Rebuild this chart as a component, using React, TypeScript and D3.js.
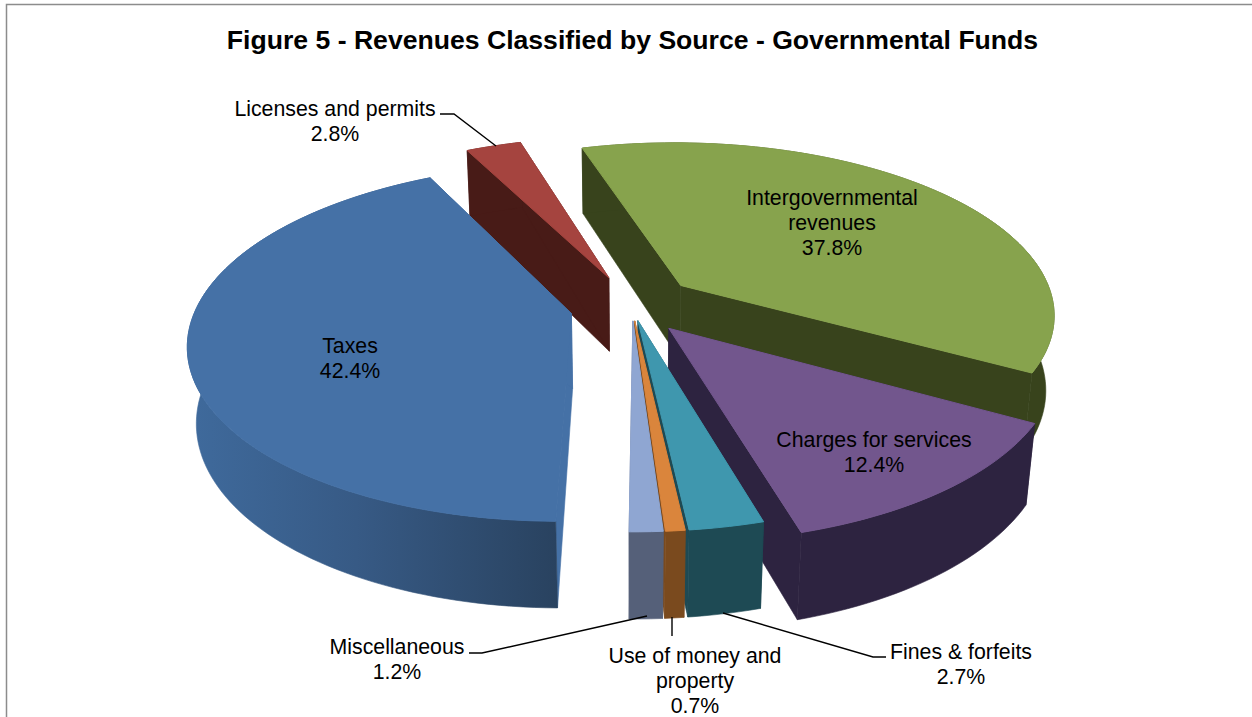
import React from "react";
import * as d3 from "d3";

const categories = ["Taxes", "Licenses and permits", "Intergovernmental revenues", "Charges for services", "Fines & forfeits", "Use of money and property", "Miscellaneous"];
const shares = [42.4, 2.8, 37.8, 12.4, 2.7, 0.7, 1.2];
const percentLabels = ["42.4%", "2.8%", "37.8%", "12.4%", "2.7%", "0.7%", "1.2%"];
const topColors = ["#4571a6", "#a5443f", "#87a34d", "#72568d", "#3f97ae", "#da853c", "#8fa6d2"];
const wallColors = ["#35567f", "#481b17", "#38431c", "#2d2340", "#1e4a54", "#7a4a1e", "#556079"];
const cutColors = ["#4571a6", "#481b17", "#38431c", "#2d2340", "#1e4a54", "#7a4a1e", "#556079"];
const explosions = [0.165, 0.17, 0.17, 0.155, 0.08, 0.08, 0.08];
const depthBoost = [1, 1.1, 1.2, 1, 1, 1, 1];
const paintOrder = [1, 2, 3, 0, 4, 5, 6];

const labelLines = [["Taxes"], ["Licenses and permits"], ["Intergovernmental", "revenues"], ["Charges for services"], ["Fines & forfeits"], ["Use of money and", "property"], ["Miscellaneous"]];
const labelCentres = [[350, 345], [335, 108], [832, 197], [874, 439], [961, 651], [695, 655], [397, 646]];
const leaders = [
  [[440, 114], [454, 114], [496, 146]],
  [[469, 653], [482, 653], [647, 616]],
  [[672, 617], [672, 636]],
  [[723, 613], [873, 657], [886, 657]],
];

const TITLE = "Figure 5 - Revenues Classified by Source - Governmental Funds";
const W = 1252, H = 717;
const CX = 632, CY = 307, A = 375, B = 172, K = 0.161, SHRINK = 0.02, DEPTH = 75;
const ROTATION = (180.5 * Math.PI) / 180;
const STEP = (1.5 * Math.PI) / 180;
const FONT = "'Liberation Sans', Arial, sans-serif";

function project(px: number, py: number, h: number): [number, number] {
  const s = 1 / (1 - K * py + SHRINK * h);
  const s0 = 1 / (1 - K * py);
  return [CX + A * px * s, CY + B * py * s + h * DEPTH * Math.pow(s0, 1.1)];
}

const pieArcs = d3
  .pie<number>()
  .sort(null)
  .startAngle(ROTATION)
  .endAngle(ROTATION + 2 * Math.PI)(shares);

const lineGen = d3.line();

function slicePaths(i: number) {
  const arc = pieArcs[i];
  const mid = (arc.startAngle + arc.endAngle) / 2;
  const ox = explosions[i] * Math.sin(mid);
  const oy = -explosions[i] * depthBoost[i] * Math.cos(mid);
  const angles = d3.range(arc.startAngle, arc.endAngle, STEP).concat(arc.endAngle);
  const world = angles.map((t) => [ox + Math.sin(t), oy - Math.cos(t)] as [number, number]);
  const rim = (h: number) => world.map(([x, y]) => project(x, y, h));
  const apex = (h: number) => project(ox, oy, h);
  const top = rim(0);
  const bottom = rim(1);
  return {
    top: lineGen([apex(0), ...top])! + "Z",
    outer: lineGen([...top, ...bottom.slice().reverse()])! + "Z",
    cutStart: lineGen([apex(0), apex(1), bottom[0], top[0]])! + "Z",
    cutEnd: lineGen([apex(0), apex(1), bottom[bottom.length - 1], top[top.length - 1]])! + "Z",
  };
}

export default function App() {
  return (
    <svg width={W} height={H} viewBox={`0 0 ${W} ${H}`} style={{ position: "absolute", left: 0, top: 0, display: "block", background: "#fff" }}>
      <defs>
        <linearGradient id="taxWall" gradientUnits="userSpaceOnUse" x1={190} x2={560} y1={0} y2={0}>
          <stop offset="0" stopColor="#3f6a9c" />
          <stop offset="0.45" stopColor="#375a85" />
          <stop offset="1" stopColor="#29425f" />
        </linearGradient>
      </defs>
      <path d={`M6.5,${H} V4.5 H${W}`} fill="none" stroke="#8c8c8c" strokeWidth={1.5} />
      <text x={632.5} y={49} textAnchor="middle" fontFamily={FONT} fontWeight="bold" fontSize={26.6} fill="#000">{TITLE}</text>
      {paintOrder.map((i) => {
        const p = slicePaths(i);
        const wallFill = i === 0 ? "url(#taxWall)" : wallColors[i];
        return (
          <g key={categories[i]}>
            <path d={p.cutStart} fill={cutColors[i]} stroke={cutColors[i]} strokeWidth={0.6} />
            <path d={p.cutEnd} fill={cutColors[i]} stroke={cutColors[i]} strokeWidth={0.6} />
            <path d={p.outer} fill={wallFill} stroke={wallFill} strokeWidth={0.6} />
            <path d={p.top} fill={topColors[i]} stroke={topColors[i]} strokeWidth={1} />
          </g>
        );
      })}
      {leaders.map((pts, k) => (
        <path key={k} d={lineGen(pts as [number, number][])!} fill="none" stroke="#000" strokeWidth={1.4} />
      ))}
      {categories.map((c, i) => (
        <text key={c} textAnchor="middle" fontFamily={FONT} fontSize={21.3} fill="#000">
          {[...labelLines[i], percentLabels[i]].map((line, j) => (
            <tspan key={j} x={labelCentres[i][0]} y={labelCentres[i][1] + 7.5 + j * 25}>{line}</tspan>
          ))}
        </text>
      ))}
    </svg>
  );
}
